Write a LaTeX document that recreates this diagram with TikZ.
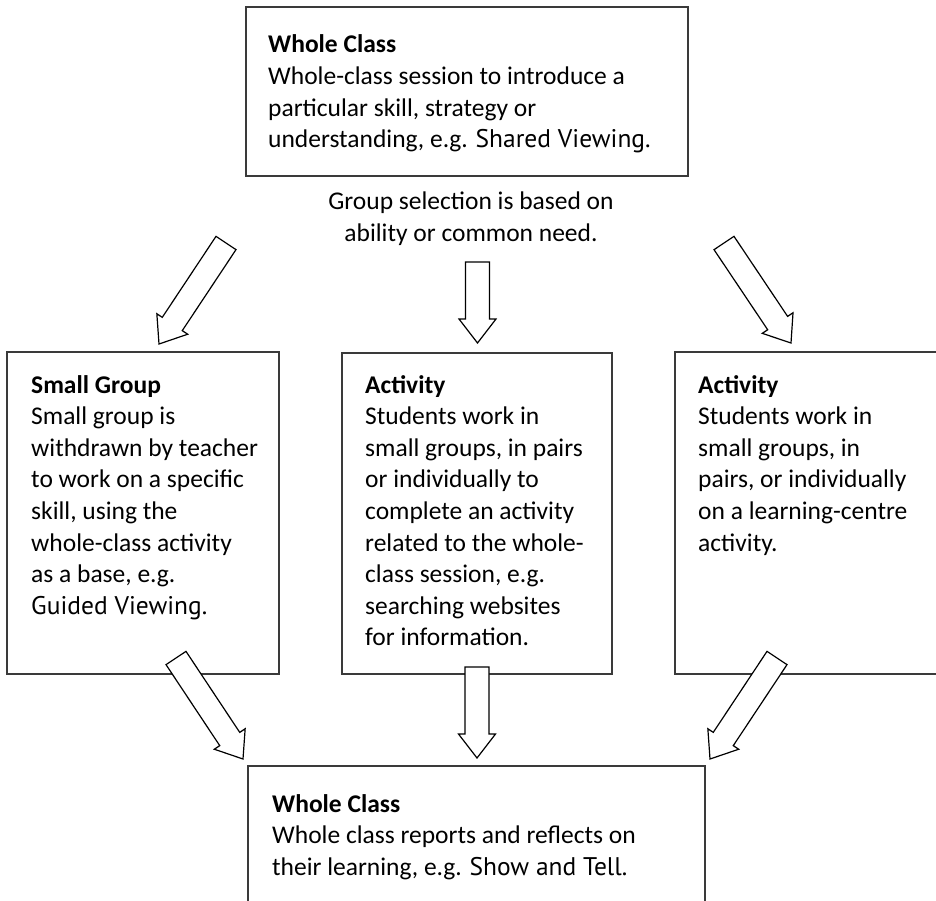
\documentclass[tikz,border=0pt]{standalone}
\usepackage{fontspec}
\setmainfont{Carlito}
\newfontfamily\exfont{PT Sans}
\usetikzlibrary{calc}
\definecolor{boxline}{HTML}{3A3A3A}
\tikzset{
  panel/.style={draw=boxline, line width=1.8pt, fill=none},
  arrowbox/.style={draw=black, line width=1.2pt, fill=white, line join=miter},
  txt/.style={anchor=base west, inner sep=0pt, font=\fontsize{25.5}{31.6}\selectfont},
  ctxt/.style={anchor=base, inner sep=0pt, font=\fontsize{25.5}{31.6}\selectfont},
}
\newcommand\leftlines[1]{\vtop{\baselineskip=31.6pt\lineskiplimit=-100pt\halign{##\hfil\cr #1\crcr}}}
\newcommand\centerlines[1]{\vtop{\baselineskip=31.6pt\lineskiplimit=-100pt\halign{\hfil##\hfil\cr #1\crcr}}}
\newcommand\ex[1]{{\exfont #1}}
\newcommand\blockarrow[2]{%
  \coordinate (#1-b) at ($(#2)!24pt!(#1)$);
  \draw[arrowbox] ($(#1)!12pt!90:(#2)$)
    -- ($(#1-b)!12pt!-90:(#1)$)
    -- ($(#1-b)!18.5pt!-90:(#1)$)
    -- (#2)
    -- ($(#1-b)!18.5pt!90:(#1)$)
    -- ($(#1-b)!12pt!90:(#1)$)
    -- ($(#1)!12pt!-90:(#2)$) -- cycle;
}
\begin{document}
\begin{tikzpicture}[x=1pt,y=-1pt]
\useasboundingbox (0,0) rectangle (936,901);
\fill[white] (0,0) rectangle (936,901);
\clip (0,0) rectangle (936,901);

% boxes
\draw[panel] (246,7) rectangle (688,176) node[coordinate] (topbox) {};
\draw[panel] (7,352) rectangle (279,674);
\draw[panel] (342,353) rectangle (612,674);
\draw[panel] (675,352) rectangle (960,674);
\draw[panel] (248,766) rectangle (705,930);

% texts
\node[txt] (ttop) at (268,53) {\leftlines{\textbf{Whole Class}\cr
Whole-class session to introduce a\cr
particular skill, strategy or\cr
understanding, e.g. \ex{Shared Viewing.}}};

\node[ctxt] (tsel) at (471,210) {\centerlines{Group selection is based on\cr
ability or common need.}};

\node[txt] (tsmall) at (31,393) {\leftlines{\textbf{Small Group}\cr
Small group is\cr
withdrawn by teacher\cr
to work on a specific\cr
skill, using the\cr
whole-class activity\cr
as a base, e.g.\cr
\ex{Guided Viewing.}}};

\node[txt] (tmid) at (365,393) {\leftlines{\textbf{Activity}\cr
Students work in\cr
small groups, in pairs\cr
or individually to\cr
complete an activity\cr
related to the whole-\cr
class session, e.g.\cr
searching websites\cr
for information.}};

\node[txt] (tright) at (698,393) {\leftlines{\textbf{Activity}\cr
Students work in\cr
small groups, in\cr
pairs, or individually\cr
on a learning-centre\cr
activity.}};

\node[txt] (tbot) at (272,812) {\leftlines{\textbf{Whole Class}\cr
Whole class reports and reflects on\cr
their learning, e.g. \ex{Show and Tell.}}};

% arrow end points
\coordinate (a1) at (226,243); \coordinate (a1h) at (159,344);
\coordinate (a2) at (477.5,262); \coordinate (a2h) at (477.5,343);
\coordinate (a3) at (724,243); \coordinate (a3h) at (791,343);
\coordinate (b1) at (176,658); \coordinate (b1h) at (243,759);
\coordinate (b2) at (477,667); \coordinate (b2h) at (477,758);
\coordinate (b3) at (777,658); \coordinate (b3h) at (710,759);

\blockarrow{a1}{a1h}
\blockarrow{a2}{a2h}
\blockarrow{a3}{a3h}
\blockarrow{b1}{b1h}
\blockarrow{b2}{b2h}
\blockarrow{b3}{b3h}
\end{tikzpicture}
\end{document}
